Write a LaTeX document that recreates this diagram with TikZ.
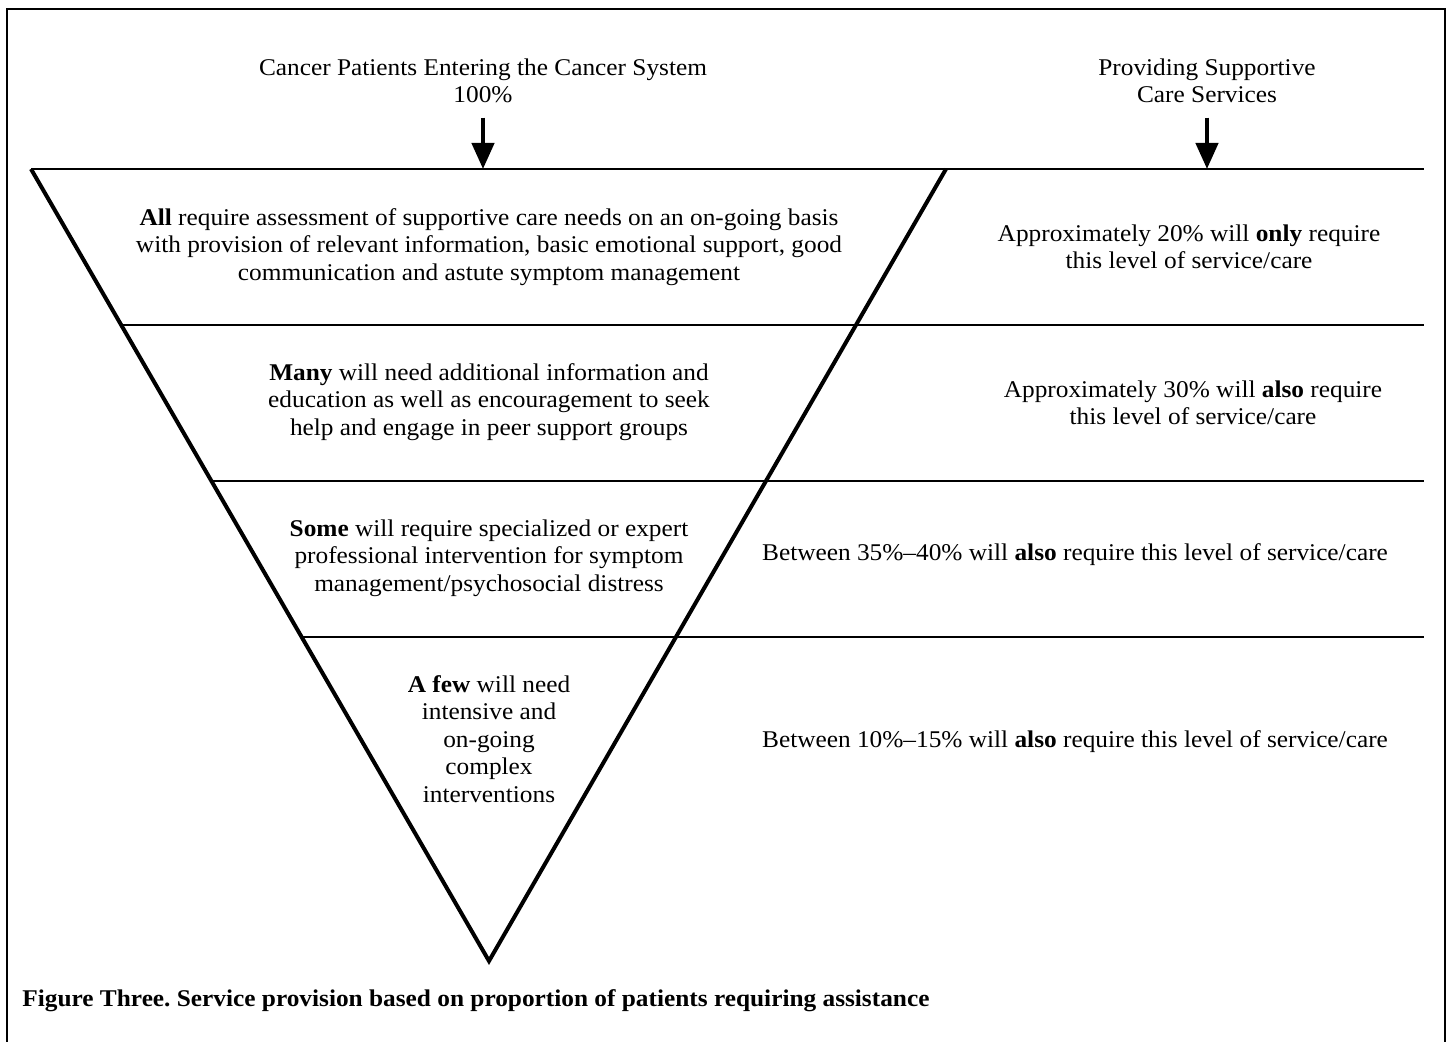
\documentclass[tikz,border=0pt]{standalone}
\usepackage{fontspec}
\setmainfont[FakeStretch=1.055]{Liberation Serif}
\usetikzlibrary{arrows.meta}
\frenchspacing

\begin{document}
\begin{tikzpicture}[x=0.5pt,y=-0.5pt,
  bandtext/.style={inner sep=0,align=center,font=\fontsize{12}{13.75}\selectfont},
  boxline/.style={line width=1pt},
  bandline/.style={line width=0.75pt},
  funnel/.style={line width=2pt},
  downarrow/.style={line width=2.2pt,-{Triangle[length=13pt,width=11pt]}}]
\useasboundingbox (0,0) rectangle (1448,1042);
% frame, open at the bottom
\draw[boxline] (7,1042) -- (7,9) -- (1445,9) -- (1445,1042);
% corners of the funnel
\coordinate (tl) at (31,169);
\coordinate (tr) at (946,169);
\coordinate (bot) at (489,961);
\coordinate (lineend) at (1424,169);
% band lines
\draw[bandline] (tl) -- (lineend);
\draw[bandline] (121.2,325) -- (1424,325);
\draw[bandline] (211.4,481) -- (1424,481);
\draw[bandline] (301.6,637) -- (1424,637);
\draw[funnel] (tl) -- (bot) -- (tr);
% headings and arrows
\node[bandtext] (entering) at (483,81) {Cancer Patients Entering the Cancer System\\100\%};
\node[bandtext] (providing) at (1207,81) {Providing Supportive\\Care Services};
\draw[downarrow] ([yshift=-7pt]entering.south) -- (entering.south |- lineend);
\draw[downarrow] ([yshift=-7pt]providing.south) -- (providing.south |- lineend);
% inside the funnel
\node[bandtext] (allneed) at (489,247) {\textbf{All} require assessment of supportive care needs on an on-going basis\\with provision of relevant information, basic emotional support, good\\communication and astute symptom management};
\node[bandtext] (manyneed) at (489,402) {\textbf{Many} will need additional information and\\education as well as encouragement to seek\\help and engage in peer support groups};
\node[bandtext] (someneed) at (489,558) {\textbf{Some} will require specialized or expert\\professional intervention for symptom\\management/psychosocial distress};
\node[bandtext] (fewneed) at (489,739) {\textbf{A few} will need\\intensive and\\on-going\\complex\\interventions};
% right column
\node[bandtext] (share20) at (1189,247) {Approximately 20\% will \textbf{only} require\\this level of service/care};
\node[bandtext] (share30) at (1193,403) {Approximately 30\% will \textbf{also} require\\this level of service/care};
\node[bandtext,anchor=base] (share35) at (1075,561) {Between 35\%--40\% will \textbf{also} require this level of service/care};
\node[bandtext,anchor=base] (share10) at (1075,748) {Between 10\%--15\% will \textbf{also} require this level of service/care};
% caption
\node[bandtext,anchor=base west,font=\fontsize{12}{13.75}\selectfont\bfseries] (caption) at (22,1007) {Figure Three. Service provision based on proportion of patients requiring assistance};
\end{tikzpicture}
\end{document}
